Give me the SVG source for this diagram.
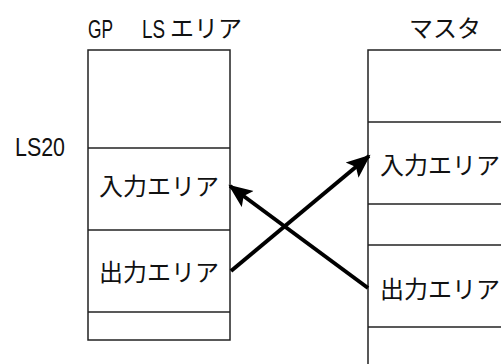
<svg xmlns="http://www.w3.org/2000/svg" width="501" height="364" viewBox="0 0 501 364">
<style>
.box{fill:#fff;stroke:#222;stroke-width:1.5}
.div{stroke:#222;stroke-width:1.5}
.t{font-family:"Noto Sans CJK JP","DejaVu Sans",sans-serif;font-size:24px;fill:#111}
.lat{font-family:"Liberation Sans","DejaVu Sans",sans-serif;font-size:25px;fill:#111}
.arr{stroke:#000;stroke-width:4;fill:none}
</style>
<defs>
<marker id="ah" markerUnits="userSpaceOnUse" markerWidth="26" markerHeight="22" refX="22" refY="10" orient="auto" viewBox="0 0 26 20">
<path d="M0,0 L24,10 L0,20 L5,10 Z" fill="#000"/>
</marker>
</defs>
<rect width="501" height="364" fill="#fff"/>
<g id="labels">
<text class="lat" x="88" y="38" textLength="25" lengthAdjust="spacingAndGlyphs">GP</text>
<text class="lat" x="142" y="38"><tspan textLength="23" lengthAdjust="spacingAndGlyphs">LS</tspan> <tspan class="t" x="170" y="37">エリア</tspan></text>
<text class="t" x="445" y="37" text-anchor="middle">マスタ</text>
<text class="lat" x="15" y="156" textLength="50" lengthAdjust="spacingAndGlyphs">LS20</text>
</g>
<g id="gp-ls-area">
<rect class="box" x="88" y="50" width="142" height="290"/>
<line class="div" x1="88" y1="148" x2="230" y2="148"/>
<line class="div" x1="88" y1="230" x2="230" y2="230"/>
<line class="div" x1="88" y1="312" x2="230" y2="312"/>
<text class="t" x="159" y="195" text-anchor="middle">入力エリア</text>
<text class="t" x="159" y="281" text-anchor="middle">出力エリア</text>
</g>
<g id="master">
<rect class="box" x="368" y="50" width="150" height="330"/>
<line class="div" x1="368" y1="122" x2="501" y2="122"/>
<line class="div" x1="368" y1="204" x2="501" y2="204"/>
<line class="div" x1="368" y1="245" x2="501" y2="245"/>
<line class="div" x1="368" y1="327" x2="501" y2="327"/>
<text class="t" x="380" y="174">入力エリア</text>
<text class="t" x="380" y="298">出力エリア</text>
</g>
<g id="connectors">
<line class="arr" x1="231" y1="271" x2="369" y2="156" marker-end="url(#ah)"/>
<line class="arr" x1="368" y1="288" x2="230" y2="186" marker-end="url(#ah)"/>
</g>
</svg>
